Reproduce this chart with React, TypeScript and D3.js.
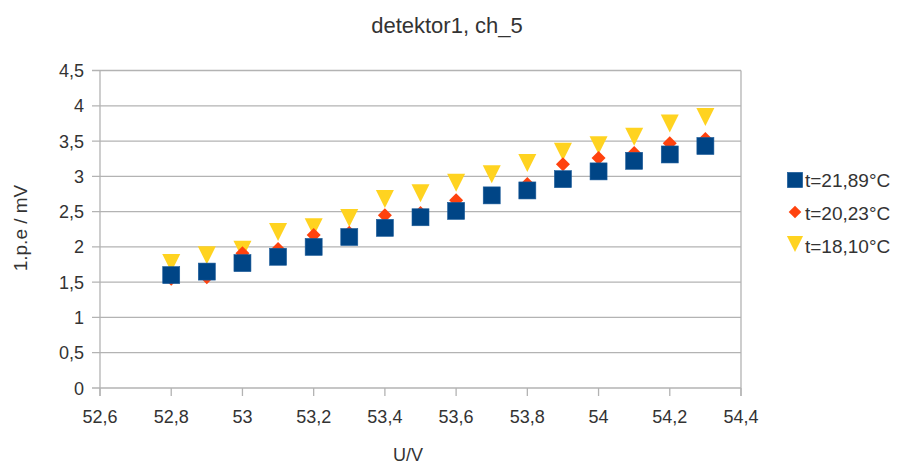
import React from "react";
import * as d3 from "d3";

const voltages = [52.8, 52.9, 53.0, 53.1, 53.2, 53.3, 53.4, 53.5, 53.6, 53.7, 53.8, 53.9, 54.0, 54.1, 54.2, 54.3];
const t2189 = [1.60, 1.65, 1.77, 1.86, 2.00, 2.14, 2.27, 2.42, 2.51, 2.73, 2.80, 2.96, 3.07, 3.22, 3.31, 3.43];
const t2023 = [1.55, 1.57, 1.91, 1.97, 2.17, 2.20, 2.45, 2.48, 2.66, 2.74, 2.89, 3.17, 3.26, 3.33, 3.47, 3.53];
const t1810 = [1.77, 1.88, 1.96, 2.21, 2.28, 2.41, 2.68, 2.76, 2.91, 3.03, 3.19, 3.35, 3.44, 3.56, 3.75, 3.84];
const xTicks = [52.6, 52.8, 53.0, 53.2, 53.4, 53.6, 53.8, 54.0, 54.2, 54.4];
const yTicks = [0, 0.5, 1, 1.5, 2, 2.5, 3, 3.5, 4, 4.5];
const seriesNames = ["t=21,89°C", "t=20,23°C", "t=18,10°C"];
const seriesColors = ["#004586", "#ff420e", "#ffd320"];

const W = 898;
const H = 467;
const FONT = "'Liberation Sans', Arial, sans-serif";

const fmt = (v: number) => {
  const s = d3.format("")(Math.round(v * 10) / 10);
  return s.replace(".", ",");
};

export default function App() {
  const x = d3.scaleLinear().domain([52.6, 54.4]).range([100, 741]);
  const y = d3.scaleLinear().domain([0, 4.5]).range([388, 70.5]);

  const series = [t2189, t2023, t1810];

  const marker = (si: number, cx: number, cy: number, key: string, scale = 1) => {
    const c = seriesColors[si];
    if (si === 0) {
      const s = 17 * scale;
      return <rect key={key} x={cx - s / 2} y={cy - s / 2} width={s} height={s} fill={c} stroke="#1a5a99" strokeWidth={0.6} />;
    }
    if (si === 1) {
      const r = 7 * scale;
      return <path key={key} d={`M${cx},${cy - r}L${cx + r},${cy}L${cx},${cy + r}L${cx - r},${cy}Z`} fill={c} />;
    }
    const hw = 9 * scale, hh = 9 * scale;
    return <path key={key} d={`M${cx - hw},${cy - hh}L${cx + hw},${cy - hh}L${cx},${cy + hh}Z`} fill={c} />;
  };

  const drawOrder = [2, 1, 0];

  return (
    <svg width={W} height={H} style={{ position: "absolute", left: 0, top: 0, background: "#fff" }} fontFamily={FONT}>
      <rect x={0} y={0} width={W} height={H} fill="#fff" />
      <text x={447} y={33} textAnchor="middle" fontSize={22} fill="#333">detektor1, ch_5</text>
      {yTicks.map((t) => (
        <g key={"y" + t}>
          <line x1={92} x2={741} y1={y(t)} y2={y(t)} stroke="#b3b3b3" strokeWidth={1.3} />
          <text x={84} y={y(t) + 6.5} textAnchor="end" fontSize={18} fill="#333">{fmt(t)}</text>
        </g>
      ))}
      <line x1={x(52.6)} x2={x(52.6)} y1={y(4.5)} y2={396} stroke="#b3b3b3" strokeWidth={1.3} />
      <line x1={x(54.4)} x2={x(54.4)} y1={y(4.5)} y2={396} stroke="#b3b3b3" strokeWidth={1.3} />
      {xTicks.map((t) => (
        <g key={"x" + t}>
          <line x1={x(t)} x2={x(t)} y1={388} y2={396} stroke="#b3b3b3" strokeWidth={1.3} />
          <text x={x(t)} y={423} textAnchor="middle" fontSize={18} fill="#333">{fmt(t)}</text>
        </g>
      ))}
      <text x={408} y={461} textAnchor="middle" fontSize={18} fill="#333">U/V</text>
      <text transform={`translate(27,228) rotate(-90)`} textAnchor="middle" fontSize={19} fill="#333">1.p.e / mV</text>
      {drawOrder.map((si) => (
        <g key={"s" + si}>
          {voltages.map((v, i) => marker(si, x(v), y(series[si][i]), `m${si}-${i}`))}
        </g>
      ))}
      {seriesNames.map((n, i) => (
        <g key={"l" + i}>
          {marker(i, 795, 180 + i * 32, "lg" + i, 0.9)}
          <text x={805} y={187 + i * 33} fontSize={19} fill="#333">{n}</text>
        </g>
      ))}
    </svg>
  );
}
